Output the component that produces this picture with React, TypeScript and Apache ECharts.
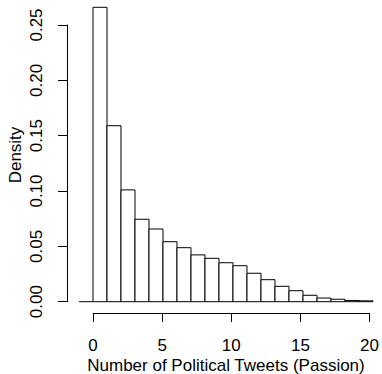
import React, { useEffect, useRef } from "react";
import * as echarts from "echarts";

// Histogram bins (bin edges) and densities
const binStarts = [-1, 0, 1, 2, 3, 4, 5, 6, 7, 8, 9, 10, 11, 12, 13, 14, 15, 16, 17, 18, 19];
const binEnds = [0, 1, 2, 3, 4, 5, 6, 7, 8, 9, 10, 11, 12, 13, 14, 15, 16, 17, 18, 19, 20];
const densities = [
  0, 0.266, 0.159, 0.101, 0.0745, 0.0657, 0.0542, 0.0488, 0.0423, 0.0392, 0.0352,
  0.0325, 0.0257, 0.0199, 0.0139, 0.0099, 0.0058, 0.0033, 0.0022, 0.0011, 0.0008,
];

const xTitle = "Number of Political Tweets (Passion)";
const yTitle = "Density";

const FONT = "'Liberation Sans', Arial, sans-serif";

export default function App() {
  const ref = useRef<HTMLDivElement>(null);

  useEffect(() => {
    if (!ref.current) return;
    const chart = echarts.init(ref.current, undefined, { renderer: "svg" });
    const data = binStarts.map((s, i) => [s, binEnds[i], densities[i]]);

    const option: any = {
      animation: false,
      backgroundColor: "#ffffff",
      grid: [
        { left: 67, right: 0, top: 0, bottom: 61 },
        { left: 93, right: 9, top: 0, bottom: 61 },
        { left: 67, right: 0, top: 25, bottom: 72.3 },
      ],
      xAxis: [
        { gridIndex: 0, type: "value", min: -1.857, max: 20.643, show: false },
        {
          gridIndex: 1,
          type: "value",
          min: 0,
          max: 20,
          interval: 5,
          axisLine: { show: true, lineStyle: { color: "#000", width: 1 } },
          axisTick: { show: true, length: 9, lineStyle: { color: "#000", width: 1 } },
          axisLabel: { color: "#000", fontSize: 17, fontFamily: FONT, margin: 24 },
          splitLine: { show: false },
        },
        { gridIndex: 2, type: "value", min: 0, max: 1, show: false },
      ],
      yAxis: [
        { gridIndex: 0, type: "value", min: -0.01021, max: 0.2726, show: false },
        { gridIndex: 1, type: "value", min: 0, max: 1, show: false },
        {
          gridIndex: 2,
          type: "value",
          min: 0,
          max: 0.25,
          interval: 0.05,
          axisLine: { show: true, lineStyle: { color: "#000", width: 1 } },
          axisTick: { show: true, length: 9, lineStyle: { color: "#000", width: 1 } },
          axisLabel: {
            color: "#000",
            fontSize: 17,
            fontFamily: FONT,
            rotate: 90,
            margin: 22,
            formatter: (v: number) => v.toFixed(2),
          },
          splitLine: { show: false },
        },
      ],
      graphic: [
        {
          type: "text",
          left: "center",
          x: 226,
          y: 365,
          style: {
            text: xTitle,
            x: 0,
            y: 0,
            fill: "#000",
            font: `17px ${FONT}`,
            align: "center",
            verticalAlign: "middle",
          },
        },
        {
          type: "text",
          x: 15.5,
          y: 155,
          rotation: Math.PI / 2,
          style: {
            text: yTitle,
            fill: "#000",
            font: `17px ${FONT}`,
            align: "center",
            verticalAlign: "middle",
          },
        },
      ],
      series: [
        {
          type: "custom",
          xAxisIndex: 0,
          yAxisIndex: 0,
          encode: { x: [0, 1], y: 2 },
          data,
          renderItem: (params: any, api: any) => {
            const x0 = api.value(0);
            const x1 = api.value(1);
            const d = api.value(2);
            const p0 = api.coord([x0, d]);
            const p1 = api.coord([x1, 0]);
            if (d === 0) {
              return {
                type: "line",
                shape: { x1: p0[0], y1: p1[1], x2: p1[0], y2: p1[1] },
                style: { stroke: "#000", lineWidth: 1 },
              };
            }
            return {
              type: "rect",
              shape: { x: p0[0], y: p0[1], width: p1[0] - p0[0], height: p1[1] - p0[1] },
              style: { fill: "#fff", stroke: "#000", lineWidth: 1 },
            };
          },
        },
      ],
    };
    // remove the stray 'left' on the x title so x is used
    delete option.graphic[0].left;
    chart.setOption(option);
    return () => chart.dispose();
  }, []);

  return (
    <div
      ref={ref}
      style={{ position: "fixed", left: 0, top: 0, width: 382, height: 374 }}
    />
  );
}
